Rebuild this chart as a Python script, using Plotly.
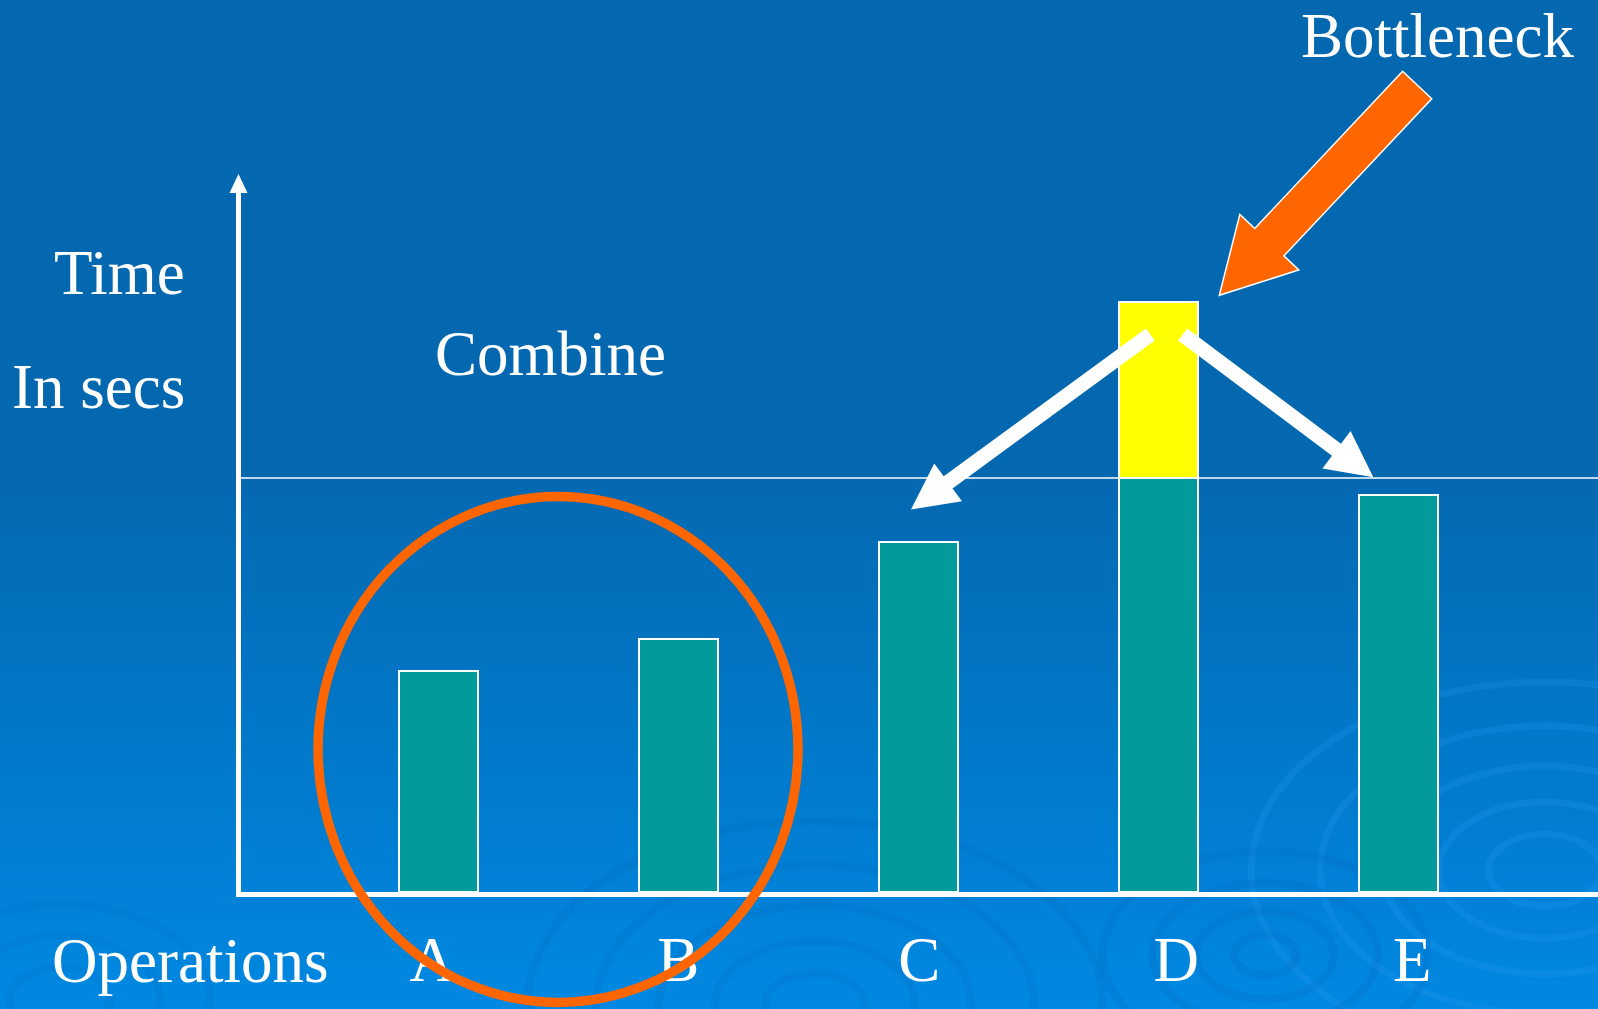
import plotly.graph_objects as go

# ---------------- data ----------------
categories = ["A", "B", "C", "D", "E"]
times = [5.35, 6.1, 8.45, 14.25, 9.6]     # time per operation (secs)
capacity = 10.0                            # horizontal reference line
label_shift_px = [-6, 0, 1, 18, 14]        # small horizontal offsets of the category labels

teal = [min(t, capacity) for t in times]
excess = [t - capacity if t > capacity else None for t in times]
xpos = list(range(len(categories)))

# ---------------- layout geometry (pixels) ----------------
W, H = 1598, 1009
L, R, T, B = 241, 1598, 192, 892
PW, PH = R - L, B - T
PX_PER_CAT = 240.0
x0 = -(438.3 - L) / PX_PER_CAT
x1 = x0 + PW / PX_PER_CAT
PX_PER_UNIT = 41.4
yrange = [0, PH / PX_PER_UNIT]


def px(x):
    return (x - L) / PW


def py(y):
    return (B - y) / PH


FONT = "Liberation Serif"
WHITE = "#FFFFFF"
ORANGE = "#FF6600"

shapes = []

# background gradient
top_c = (4, 104, 176)
bot_c = (0, 136, 226)
g_start = 470
n = 60
shapes.append(dict(type="rect", xref="paper", yref="paper", x0=px(0), x1=px(W), y0=py(g_start), y1=py(0),
                   fillcolor="rgb(%d,%d,%d)" % top_c, line=dict(width=0), layer="below"))
for i in range(n):
    ya = g_start + (H - g_start) * i / n
    yb = g_start + (H - g_start) * (i + 1) / n + 1
    t = (i + 0.5) / n
    c = tuple(int(round(top_c[k] + (bot_c[k] - top_c[k]) * t)) for k in range(3))
    shapes.append(dict(type="rect", xref="paper", yref="paper", x0=px(0), x1=px(W), y0=py(yb), y1=py(ya),
                       fillcolor="rgb(%d,%d,%d)" % c, line=dict(width=0), layer="below"))

# decorative ripples (subtle)
ripples = [
    (1545, 870, [45, 85, 130, 180, 235], "rgba(40,150,240,0.25)", 7),
    (1265, 955, [25, 55, 90, 130], "rgba(0,95,180,0.16)", 8),
    (815, 1005, [40, 80, 125, 175, 230], "rgba(0,95,180,0.14)", 8),
    (60, 1000, [40, 80, 120], "rgba(0,95,180,0.12)", 8),
]
for cx, cy, radii, col, w in ripples:
    for r in radii:
        shapes.append(dict(type="circle", xref="paper", yref="paper",
                           x0=px(cx - r * 1.25), x1=px(cx + r * 1.25), y0=py(cy + r * 0.8), y1=py(cy - r * 0.8),
                           line=dict(color=col, width=w), layer="below"))

# capacity reference line
shapes.append(dict(type="line", xref="paper", yref="y", x0=0, x1=1, y0=capacity, y1=capacity,
                   line=dict(color=WHITE, width=1.5), layer="above"))

# y-axis arrow head
shapes.append(dict(type="path", xref="paper", yref="paper",
                   path="M %f,%f L %f,%f L %f,%f Z" % (px(229.5), py(193), px(247.5), py(193), px(238.5), py(174)),
                   fillcolor=WHITE, line=dict(width=0), layer="above"))


def block_arrow(tail, tip, sw, hw, hl):
    tx, ty = tail
    qx, qy = tip
    dx, dy = qx - tx, qy - ty
    ln = (dx * dx + dy * dy) ** 0.5
    ux, uy = dx / ln, dy / ln
    nx, ny = -uy, ux
    bx, by = qx - ux * hl, qy - uy * hl
    pts = [
        (tx + nx * sw / 2, ty + ny * sw / 2),
        (bx + nx * sw / 2, by + ny * sw / 2),
        (bx + nx * hw / 2, by + ny * hw / 2),
        (qx, qy),
        (bx - nx * hw / 2, by - ny * hw / 2),
        (bx - nx * sw / 2, by - ny * sw / 2),
        (tx - nx * sw / 2, ty - ny * sw / 2),
    ]
    return "M " + " L ".join("%f,%f" % (px(a), py(b)) for a, b in pts) + " Z"


# white arrows from the bottleneck
shapes.append(dict(type="path", xref="paper", yref="paper",
                   path=block_arrow((1150.3, 334.5), (911, 509.5), 15, 47, 46),
                   fillcolor=WHITE, line=dict(width=0), layer="above"))
shapes.append(dict(type="path", xref="paper", yref="paper",
                   path=block_arrow((1182.7, 334.5), (1373.3, 477.3), 15, 47, 46),
                   fillcolor=WHITE, line=dict(width=0), layer="above"))
# orange arrow
shapes.append(dict(type="path", xref="paper", yref="paper",
                   path=block_arrow((1417.2, 85), (1219.3, 295.3), 40, 81, 73),
                   fillcolor=ORANGE, line=dict(color=WHITE, width=1.5), layer="above"))
# orange circle
shapes.append(dict(type="circle", xref="paper", yref="paper",
                   x0=px(558 - 240), x1=px(558 + 240), y0=py(749.5 + 253), y1=py(749.5 - 253),
                   line=dict(color=ORANGE, width=9.5), layer="above"))

fig = go.Figure()
fig.add_trace(go.Bar(x=xpos, y=teal, width=0.331, marker=dict(color="#029A9A", line=dict(color=WHITE, width=2)),
                     hoverinfo="skip", showlegend=False))
fig.add_trace(go.Bar(x=xpos, y=excess, width=0.331, marker=dict(color="#FFFF00", line=dict(color=WHITE, width=2)),
                     hoverinfo="skip", showlegend=False))


def ann(text, xp, yc, anchor):
    return dict(text=text, xref="paper", yref="paper", x=px(xp), y=py(yc), xanchor=anchor, yanchor="middle",
                showarrow=False, font=dict(family=FONT, size=63, color=WHITE))


annotations = [
    ann("Bottleneck", 1437, 36, "center"),
    ann("Time", 187, 273, "right"),
    ann("In secs", 187, 387, "right"),
    ann("Combine", 550, 354, "center"),
    ann("Operations", 50, 961, "left"),
]

fig.update_layout(
    width=W, height=H,
    margin=dict(l=L, r=W - R, t=T, b=H - B, autoexpand=False),
    paper_bgcolor="rgb(4,104,176)",
    plot_bgcolor="rgba(0,0,0,0)",
    barmode="stack",
    bargap=0,
    shapes=shapes,
    annotations=annotations,
    xaxis=dict(range=[x0, x1], showgrid=False, zeroline=False, showline=True, linecolor=WHITE, linewidth=5,
               tickmode="array", tickvals=[i + s / PX_PER_CAT for i, s in zip(xpos, label_shift_px)],
               ticktext=categories, ticks="", ticklabelstandoff=8,
               tickfont=dict(family=FONT, size=63, color=WHITE), fixedrange=True),
    yaxis=dict(range=yrange, showgrid=False, zeroline=False, showline=True, linecolor=WHITE, linewidth=5,
               showticklabels=False, ticks="", fixedrange=True),
    showlegend=False,
)

fig.write_html("out.html", config={"displayModeBar": False})
